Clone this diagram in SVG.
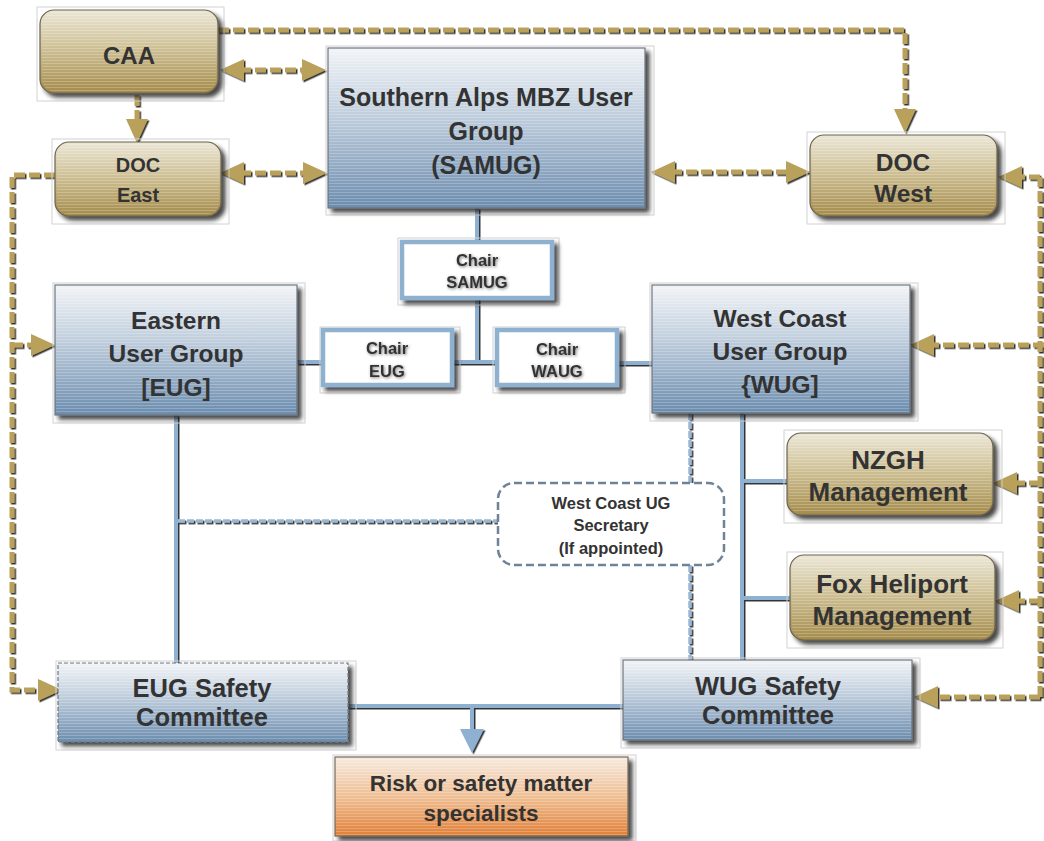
<svg xmlns="http://www.w3.org/2000/svg" width="1044" height="841" viewBox="0 0 1044 841">
<style>
text{font-family:"Liberation Sans",Arial,Helvetica,sans-serif;font-weight:bold;fill:#333;text-anchor:middle}
.gold{fill:url(#gGold);stroke:#6b6350;stroke-width:1.2}
.blue{fill:url(#gBlue);stroke:#6f7780;stroke-width:1.2}
.orng{fill:url(#gOrange);stroke:#7a6a5a;stroke-width:1.2}
.str{fill:url(#stripes);stroke:none}
.bb{fill:none;stroke:#d2d2d2;stroke-width:1}
.chair{fill:#fff;stroke:#8fb1d0;stroke-width:4.5}
.gl{fill:none;stroke:#b9a15c;stroke-width:5;stroke-dasharray:11 4}
.bl{fill:none;stroke:#8fb1d1;stroke-width:4}
.bd{fill:none;stroke:#9ab7d3;stroke-width:3.5;stroke-dasharray:7 2}
.sec{fill:#fff;stroke:#6e8398;stroke-width:2.5;stroke-dasharray:8 4}
</style>
<defs>
<linearGradient id="gGold" x1="0" y1="0" x2="0" y2="1">
<stop offset="0" stop-color="#ebe6d6"/><stop offset="0.45" stop-color="#cfc196"/><stop offset="1" stop-color="#a48b4a"/>
</linearGradient>
<linearGradient id="gBlue" x1="0" y1="0" x2="0" y2="1">
<stop offset="0" stop-color="#f2f4f7"/><stop offset="0.45" stop-color="#bccbdb"/><stop offset="1" stop-color="#6b8cae"/>
</linearGradient>
<linearGradient id="gOrange" x1="0" y1="0" x2="0" y2="1">
<stop offset="0" stop-color="#f6eadf"/><stop offset="0.5" stop-color="#efbf94"/><stop offset="1" stop-color="#e07f36"/>
</linearGradient>
<pattern id="stripes" width="6" height="3" patternUnits="userSpaceOnUse">
<rect width="6" height="1" fill="#ffffff" opacity="0.22"/>
</pattern>
<filter id="sh" filterUnits="userSpaceOnUse" x="0" y="0" width="1044" height="841">
<feDropShadow dx="4" dy="4" stdDeviation="2" flood-color="#1a1a1a" flood-opacity="0.8"/>
</filter>
<filter id="lsh" filterUnits="userSpaceOnUse" x="0" y="0" width="1044" height="841">
<feDropShadow dx="1.5" dy="1.5" stdDeviation="0.4" flood-color="#1a1a1a" flood-opacity="0.9"/>
</filter>
<filter id="tsh" filterUnits="userSpaceOnUse" x="0" y="0" width="1044" height="841">
<feDropShadow dx="1" dy="1" stdDeviation="1.4" flood-color="#444" flood-opacity="0.7"/>
</filter>
<marker id="ah" viewBox="0 0 24 22" refX="4" refY="11" markerWidth="24" markerHeight="22" markerUnits="userSpaceOnUse" orient="auto-start-reverse">
<path d="M0,0 L24,11 L0,22 z" fill="#b9a15c"/>
</marker>
<marker id="bh" viewBox="0 0 24 24" refX="4" refY="12" markerWidth="24" markerHeight="24" markerUnits="userSpaceOnUse" orient="auto">
<path d="M0,0 L24,12 L0,24 z" fill="#8fb1d1"/>
</marker>
</defs>
<rect width="1044" height="841" fill="#ffffff"/>

<g id="connectors">
<g id="gold-connectors" filter="url(#lsh)" marker-end="url(#ah)">
<path class="gl" d="M240,70 L306,70" marker-start="url(#ah)"/>
<path class="gl" d="M137,95 L137,123"/>
<path class="gl" d="M240,173 L307,173" marker-start="url(#ah)"/>
<path class="gl" d="M671,172 L790,172" marker-start="url(#ah)"/>
<path class="gl" d="M218,30 L905,30 L905,113"/>
<path class="gl" d="M55,175 L12,175 L12,690 L42,690"/>
<path class="gl" d="M12,345 L35,345"/>
<path class="gl" d="M1040,697 L1040,177" marker-end="none"/>
<path class="gl" d="M1040,177 L1018,177"/>
<path class="gl" d="M1044,345 L930,345"/>
<path class="gl" d="M1040,483 L1013,483"/>
<path class="gl" d="M1040,601 L1015,601"/>
<path class="gl" d="M1040,697 L934,697"/>
</g>
<g id="blue-connectors" filter="url(#lsh)">
<path class="bl" d="M477,208 L477,242"/>
<path class="bl" d="M477,298 L477,362"/>
<path class="bl" d="M452,362 L497,362"/>
<path class="bl" d="M297,362 L323,362"/>
<path class="bl" d="M617,363 L652,363"/>
<path class="bl" d="M176,415 L176,663"/>
<path class="bl" d="M742,413 L742,660"/>
<path class="bl" d="M742,481 L787,481"/>
<path class="bl" d="M742,598 L790,598"/>
<path class="bl" d="M348,706 L623,706"/>
<path class="bl" d="M472,706 L472,733" marker-end="url(#bh)"/>
<path class="bd" d="M178,521 L498,521"/>
<path class="bd" d="M690,413 L690,483"/>
<path class="bd" d="M690,565 L690,660"/>
</g>
</g>

<g id="caa">
<rect class="bb" x="37" y="7" width="187" height="94"/>
<rect class="gold" x="40" y="10" width="178" height="83" rx="14" filter="url(#sh)"/>
<rect class="str" x="42" y="12" width="174" height="79" rx="12"/>
<text x="129" y="64" font-size="24">CAA</text>
</g>

<g id="doc-east">
<rect class="bb" x="52" y="139" width="177" height="85"/>
<rect class="gold" x="55" y="142" width="166" height="74" rx="14" filter="url(#sh)"/>
<rect class="str" x="57" y="144" width="162" height="70" rx="12"/>
<text x="138" y="172" font-size="20">DOC</text>
<text x="138" y="202" font-size="20">East</text>
</g>

<g id="samug">
<rect class="bb" x="326" y="46" width="328" height="169"/>
<rect class="blue" x="328" y="48" width="317" height="160" filter="url(#sh)"/>
<rect class="str" x="329" y="49" width="315" height="158"/>
<text x="486" y="106" font-size="25">Southern Alps MBZ User</text>
<text x="486" y="140" font-size="25">Group</text>
<text x="486" y="174" font-size="25">(SAMUG)</text>
</g>

<g id="doc-west">
<rect class="bb" x="807" y="132" width="198" height="92"/>
<rect class="gold" x="810" y="135" width="187" height="81" rx="14" filter="url(#sh)"/>
<rect class="str" x="812" y="137" width="183" height="77" rx="12"/>
<text x="903" y="171" font-size="24.5">DOC</text>
<text x="903" y="202" font-size="24.5">West</text>
</g>

<g id="chair-samug">
<rect class="bb" x="398" y="238" width="161" height="67"/>
<rect class="chair" x="402" y="242" width="150" height="56" filter="url(#sh)"/>
<text x="477" y="266" font-size="16.5" filter="url(#tsh)">Chair</text>
<text x="477" y="288" font-size="16.5" filter="url(#tsh)">SAMUG</text>
</g>

<g id="eug">
<rect class="bb" x="53" y="283" width="252" height="140"/>
<rect class="blue" x="55" y="285" width="242" height="130" filter="url(#sh)"/>
<rect class="str" x="56" y="286" width="240" height="128"/>
<text x="176" y="329" font-size="24.5">Eastern</text>
<text x="176" y="362" font-size="24.5">User Group</text>
<text x="176" y="396" font-size="24.5">[EUG]</text>
</g>

<g id="chair-eug">
<rect class="bb" x="320" y="327" width="140" height="66"/>
<rect class="chair" x="323" y="330" width="129" height="55" filter="url(#sh)"/>
<text x="387" y="354" font-size="16.5" filter="url(#tsh)">Chair</text>
<text x="387" y="377" font-size="16.5" filter="url(#tsh)">EUG</text>
</g>

<g id="chair-waug">
<rect class="bb" x="493" y="327" width="132" height="66"/>
<rect class="chair" x="497" y="330" width="120" height="55" filter="url(#sh)"/>
<text x="557" y="355" font-size="16.5" filter="url(#tsh)">Chair</text>
<text x="557" y="377" font-size="16.5" filter="url(#tsh)">WAUG</text>
</g>

<g id="wcug">
<rect class="bb" x="650" y="283" width="268" height="138"/>
<rect class="blue" x="652" y="285" width="258" height="128" filter="url(#sh)"/>
<rect class="str" x="653" y="286" width="256" height="126"/>
<text x="780" y="327" font-size="24.5">West Coast</text>
<text x="780" y="360" font-size="24.5">User Group</text>
<text x="780" y="393" font-size="24.5">{WUG]</text>
</g>

<g id="nzgh">
<rect class="bb" x="784" y="430" width="218" height="93"/>
<rect class="gold" x="787" y="433" width="206" height="82" rx="14" filter="url(#sh)"/>
<rect class="str" x="789" y="435" width="202" height="78" rx="12"/>
<text x="888" y="469" font-size="26">NZGH</text>
<text x="888" y="501" font-size="26">Management</text>
</g>

<g id="secretary">
<rect class="sec" x="498" y="483" width="226" height="82" rx="16"/>
<text x="611" y="509" font-size="16.5">West Coast UG</text>
<text x="611" y="531" font-size="16.5">Secretary</text>
<text x="611" y="554" font-size="16.5">(If appointed)</text>
</g>

<g id="fox">
<rect class="bb" x="787" y="552" width="216" height="96"/>
<rect class="gold" x="790" y="555" width="205" height="85" rx="14" filter="url(#sh)"/>
<rect class="str" x="792" y="557" width="201" height="81" rx="12"/>
<text x="892" y="593" font-size="26">Fox Heliport</text>
<text x="892" y="625" font-size="26">Management</text>
</g>

<g id="eug-safety">
<rect class="bb" x="56" y="661" width="300" height="89"/>
<rect class="blue" x="58" y="663" width="290" height="79" filter="url(#sh)" stroke-dasharray="4 2"/>
<rect class="str" x="59" y="664" width="288" height="77"/>
<text x="202" y="697" font-size="25.5">EUG Safety</text>
<text x="202" y="726" font-size="25.5">Committee</text>
</g>

<g id="wug-safety">
<rect class="bb" x="621" y="658" width="299" height="90"/>
<rect class="blue" x="623" y="660" width="289" height="80" filter="url(#sh)"/>
<rect class="str" x="624" y="661" width="287" height="78"/>
<text x="768" y="695" font-size="25.5">WUG Safety</text>
<text x="768" y="724" font-size="25.5">Committee</text>
</g>

<g id="risk">
<rect class="bb" x="333" y="755" width="303" height="86"/>
<rect class="orng" x="335" y="757" width="293" height="79" filter="url(#sh)"/>
<rect class="str" x="336" y="758" width="291" height="77"/>
<text x="481" y="791" font-size="22.5">Risk or safety matter</text>
<text x="481" y="821" font-size="22.5">specialists</text>
</g>
</svg>
